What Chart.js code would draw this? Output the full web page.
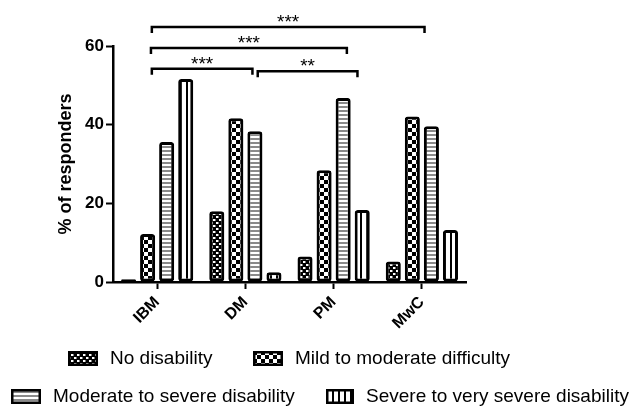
<!DOCTYPE html>
<html lang="en">
<head>
  <meta charset="UTF-8">
  <title>% of responders</title>
  <script src="https://cdn.jsdelivr.net/npm/chart.js"></script>
  <style>
    * { margin: 0; padding: 0; box-sizing: border-box; }
    body { background: #fff; width: 632px; height: 409px; overflow: hidden; position: relative; font-family: 'Liberation Sans', Arial, sans-serif; }
    #wrap { position: absolute; left: 0; top: 0; width: 632px; height: 409px; }
    .leg { position: absolute; display: flex; align-items: center; font-size: 19px; color: #000; white-space: nowrap; }
    .leg canvas { margin-right: 12px; }
  </style>
</head>
<body>
  <div id="wrap"><canvas id="chart" width="632" height="409"></canvas></div>
  <div class="leg" style="left:68px; top:347px;"><canvas id="sw0" width="30" height="15"></canvas>No disability</div>
  <div class="leg" style="left:253px; top:347px;"><canvas id="sw1" width="30" height="15"></canvas>Mild to moderate difficulty</div>
  <div class="leg" style="left:11px; top:385px;"><canvas id="sw2" width="30" height="15"></canvas>Moderate to severe disability</div>
  <div class="leg" style="left:326px; top:385px;"><canvas id="sw3" width="28" height="15"></canvas>Severe to very severe disability</div>

  <script>
    const categories = ['IBM', 'DM', 'PM', 'MwC'];
    const seriesNames = ['No disability', 'Mild to moderate difficulty', 'Moderate to severe disability', 'Severe to very severe disability'];
    const noDisability = [0.7, 18, 6.5, 5.2];
    const mildModerate = [12.2, 41.6, 28.4, 42.1];
    const moderateSevere = [35.6, 38.3, 46.8, 39.6];
    const severeVerySevere = [51.6, 2.5, 18.3, 13.2];
    const yTicks = [0, 20, 40, 60];

    // significance brackets: from / to category index, height in % units
    const bracketFrom = [-0.06, -0.07, -0.06, 1.14];
    const bracketTo = [3.03, 2.15, 1.08, 2.27];
    const bracketLevel = [64.8, 59.5, 54.2, 53.6];
    const bracketStars = ['***', '***', '***', '**'];

    function makePattern(ctx, kind) {
      const c = document.createElement('canvas');
      const t = c.getContext('2d');
      if (kind === 0) {
        c.width = 6; c.height = 6;
        t.fillStyle = '#000'; t.fillRect(0, 0, 6, 6);
        t.fillStyle = '#fff';
        t.fillRect(0, 0, 2, 2); t.fillRect(3, 3, 2, 2);
        t.fillStyle = '#777';
        t.fillRect(2, 0, 1, 2); t.fillRect(5, 3, 1, 2);
      } else if (kind === 1) {
        c.width = 8; c.height = 8;
        t.fillStyle = '#fff'; t.fillRect(0, 0, 8, 8);
        t.fillStyle = '#000';
        t.fillRect(0, 0, 4, 4); t.fillRect(4, 4, 4, 4);
      } else if (kind === 2) {
        c.width = 4; c.height = 4;
        t.fillStyle = '#fff'; t.fillRect(0, 0, 4, 4);
        t.fillStyle = '#8a8a8a'; t.fillRect(0, 2, 4, 2);
      } else {
        c.width = 6; c.height = 4;
        t.fillStyle = '#fff'; t.fillRect(0, 0, 6, 4);
        t.fillStyle = '#000'; t.fillRect(0, 0, 2, 4);
      }
      return ctx.createPattern(c, 'repeat');
    }

    const ctx = document.getElementById('chart').getContext('2d');
    const seriesData = [noDisability, mildModerate, moderateSevere, severeVerySevere];

    const bracketPlugin = {
      id: 'brackets',
      afterDraw(chart) {
        const c = chart.ctx;
        const xs = chart.scales.x, ys = chart.scales.y;
        c.save();
        c.strokeStyle = '#000';
        c.lineWidth = 2.5;
        c.fillStyle = '#000';
        c.font = '19px "Liberation Sans", Arial, sans-serif';
        c.textAlign = 'center';
        c.textBaseline = 'alphabetic';
        bracketLevel.forEach((lv, i) => {
          const x1 = xs.getPixelForValue(bracketFrom[i]);
          const x2 = xs.getPixelForValue(bracketTo[i]);
          const y = ys.getPixelForValue(lv);
          c.beginPath();
          c.moveTo(x1, y + 6);
          c.lineTo(x1, y);
          c.lineTo(x2, y);
          c.lineTo(x2, y + 6);
          c.stroke();
          c.fillText(bracketStars[i], (x1 + x2) / 2, y + 1);
        });
        c.restore();
      }
    };

    new Chart(ctx, {
      type: 'bar',
      data: {
        labels: categories,
        datasets: seriesData.map((d, i) => ({
          label: seriesNames[i],
          data: d,
          backgroundColor: makePattern(ctx, i),
          borderColor: '#000',
          borderWidth: 3,
          borderRadius: 3,
          borderSkipped: false,
          categoryPercentage: 0.864,
          barPercentage: 0.79
        }))
      },
      options: {
        responsive: false,
        animation: false,
        layout: { padding: { left: 0, top: 46, right: 166, bottom: 62 } },
        plugins: { legend: { display: false }, tooltip: { enabled: false } },
        scales: {
          x: {
            afterFit: s => { s.height = 65; },
            grid: { display: true, offset: false, drawOnChartArea: false, drawTicks: true, tickLength: 7, tickColor: '#000', tickWidth: 2 },
            border: { color: '#000', width: 2.5 },
            ticks: {
              color: '#000', minRotation: 45, maxRotation: 45, padding: 4,
              font: { family: 'Liberation Sans', size: 16, weight: 'bold' }
            }
          },
          y: {
            min: 0, max: 60,
            afterFit: s => { s.width = 113; },
            afterBuildTicks: s => { s.ticks = yTicks.map(v => ({ value: v })); },
            grid: { display: true, drawOnChartArea: false, drawTicks: true, tickLength: 7, tickColor: '#000', tickWidth: 2 },
            border: { color: '#000', width: 2.5 },
            ticks: { color: '#000', padding: 2, font: { family: 'Liberation Sans', size: 17, weight: 'bold' } },
            title: {
              display: true, text: '% of responders', color: '#000',
              padding: { top: 55, bottom: 0 },
              font: { family: 'Liberation Sans', size: 18, weight: 'bold' }
            }
          }
        }
      },
      plugins: [bracketPlugin]
    });

    // legend swatches
    for (let i = 0; i < 4; i++) {
      const sw = document.getElementById('sw' + i);
      const sc = sw.getContext('2d');
      sc.fillStyle = makePattern(sc, i);
      sc.fillRect(0, 0, sw.width, sw.height);
      sc.strokeStyle = '#000';
      sc.lineWidth = 2.5;
      sc.strokeRect(1.25, 1.25, sw.width - 2.5, sw.height - 2.5);
    }
  </script>
</body>
</html>
